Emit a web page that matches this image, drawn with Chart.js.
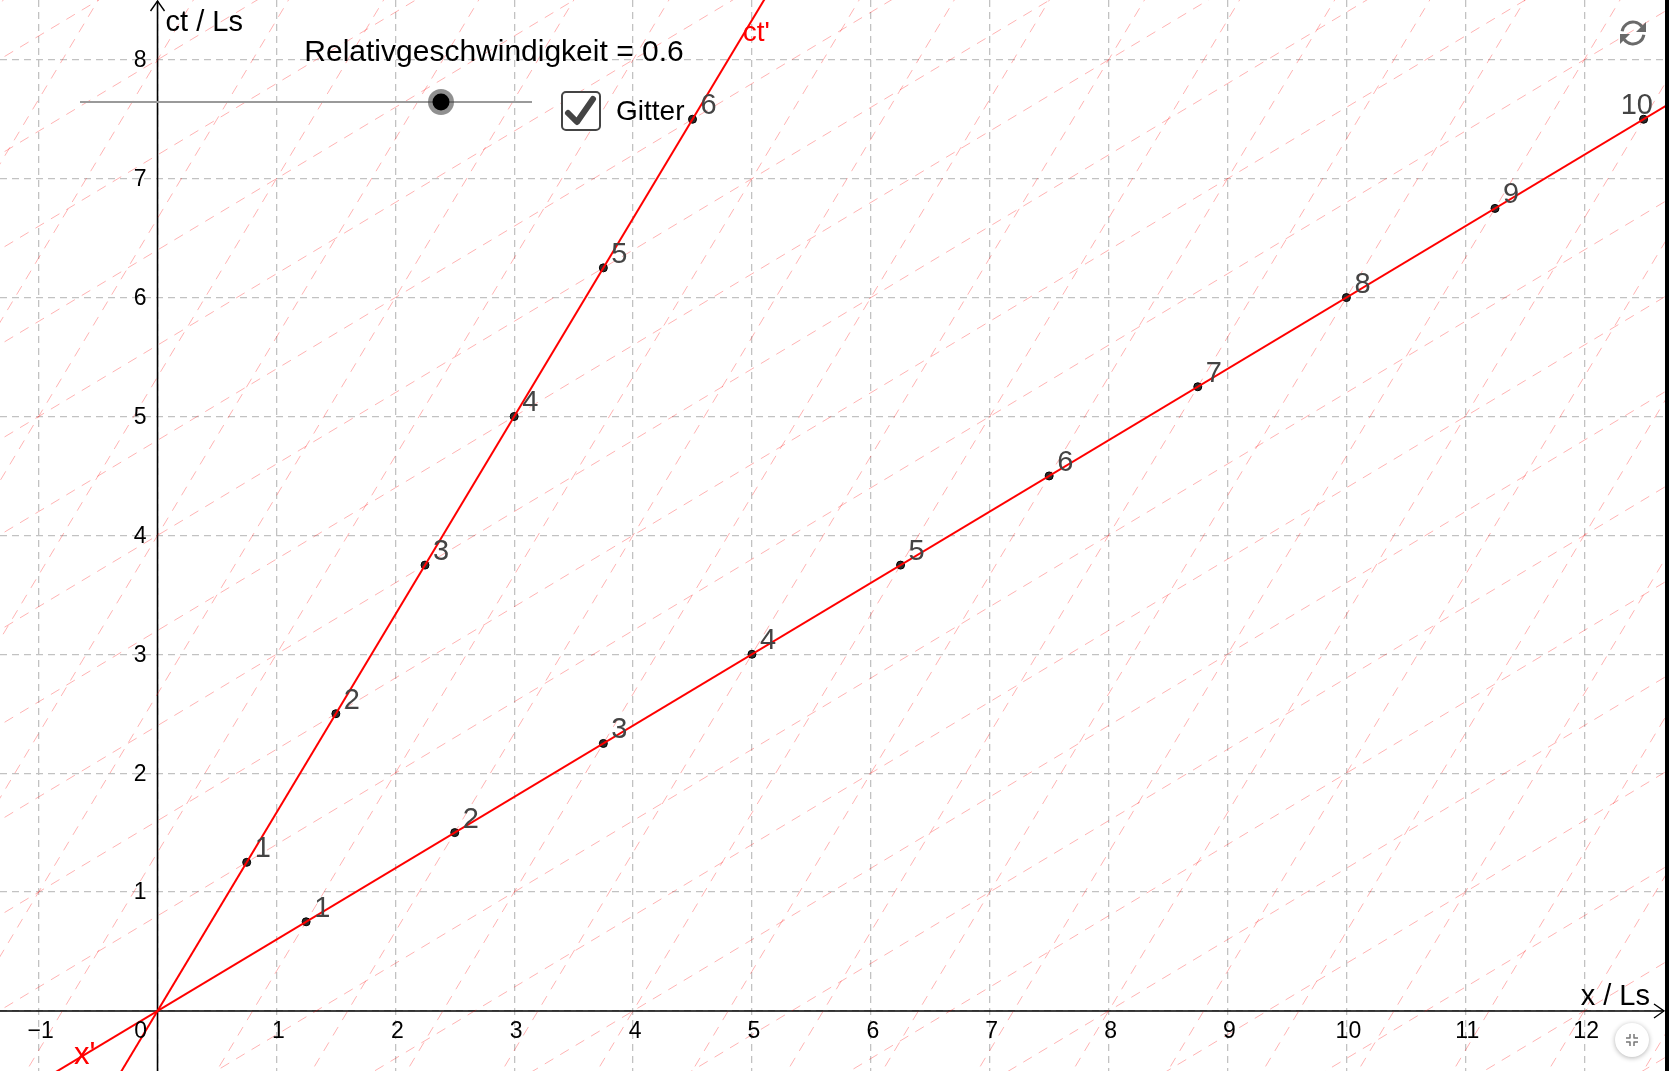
<!DOCTYPE html>
<html>
<head>
<meta charset="utf-8">
<script src="https://cdn.jsdelivr.net/npm/chart.js@4.4.1/dist/chart.umd.min.js"></script>
<style>
  html, body { margin: 0; padding: 0; background: #000; overflow: hidden; }
  #wrap { position: absolute; left: 0; top: 0; width: 1665px; height: 1071px; background: #fff; }
</style>
</head>
<body>
<div id="wrap"><canvas id="mink"></canvas></div>
<script>
// visible window of the diagram (Ls)
const xMin = -1.325, xMax = 12.68;
const yMin = -0.505, yMax = 8.503;

// relative velocity (beta) – slope of the primed axes
const velocity = 0.6;

// unit marks on the ct' axis
const ctPrimeX = [0.75, 1.5, 2.25, 3, 3.75, 4.5];
const ctPrimeY = [1.25, 2.5, 3.75, 5, 6.25, 7.5];
const ctPrimeLabels = ["1", "2", "3", "4", "5", "6"];

// unit marks on the x' axis
const xPrimeX = [1.25, 2.5, 3.75, 5, 6.25, 7.5, 8.75, 10, 11.25, 12.5];
const xPrimeY = [0.75, 1.5, 2.25, 3, 3.75, 4.5, 5.25, 6, 6.75, 7.5];
const xPrimeLabels = ["1", "2", "3", "4", "5", "6", "7", "8", "9", "10"];

// primed grid: x-intercepts of lines parallel to ct', ct-intercepts of lines parallel to x'
const steepIntercepts = [-6.4, -5.6, -4.8, -4, -3.2, -2.4, -1.6, -0.8, 0.8, 1.6, 2.4, 3.2, 4, 4.8, 5.6, 6.4, 7.2, 8, 8.8, 9.6, 10.4, 11.2, 12, 12.8];
const shallowIntercepts = [-8, -7.2, -6.4, -5.6, -4.8, -4, -3.2, -2.4, -1.6, -0.8, 0.8, 1.6, 2.4, 3.2, 4, 4.8, 5.6, 6.4, 7.2, 8, 8.8];

const sliderTitle = "Relativgeschwindigkeit = 0.6";
const checkboxLabel = "Gitter";

const FONT = "'Liberation Sans', Arial, sans-serif";

// build datasets
const datasets = [];
const pink = "rgba(255, 0, 0, 0.3)";
steepIntercepts.forEach(a => {
    datasets.push({
        data: [{x: a + velocity * (yMin - 1), y: yMin - 1}, {x: a + velocity * (yMax + 1), y: yMax + 1}],
        showLine: true, borderColor: pink, borderWidth: 1, borderDash: [10, 8], pointRadius: 0
    });
});
shallowIntercepts.forEach(b => {
    datasets.push({
        data: [{x: xMin - 1, y: b + velocity * (xMin - 1)}, {x: xMax + 1, y: b + velocity * (xMax + 1)}],
        showLine: true, borderColor: pink, borderWidth: 1, borderDash: [10, 8], pointRadius: 0
    });
});
// ct' and x' axes
datasets.push({
    data: [{x: velocity * (yMin - 1), y: yMin - 1}, {x: velocity * (yMax + 1), y: yMax + 1}],
    showLine: true, borderColor: "#ff0000", borderWidth: 2, pointRadius: 0
});
datasets.push({
    data: [{x: xMin - 1, y: velocity * (xMin - 1)}, {x: xMax + 1, y: velocity * (xMax + 1)}],
    showLine: true, borderColor: "#ff0000", borderWidth: 2, pointRadius: 0
});
datasets.push({
    data: ctPrimeX.map((x, i) => ({x: x, y: ctPrimeY[i]})),
    showLine: false, pointRadius: 4, backgroundColor: "#2b2b2b", borderColor: "#000", borderWidth: 1, markLabels: ctPrimeLabels
});
datasets.push({
    data: xPrimeX.map((x, i) => ({x: x, y: xPrimeY[i]})),
    showLine: false, pointRadius: 4, backgroundColor: "#2b2b2b", borderColor: "#000", borderWidth: 1, markLabels: xPrimeLabels
});

// one tick per whole unit inside the window
function unitTicks(scale) {
    const ticks = [];
    for (let v = Math.ceil(scale.min); v <= Math.floor(scale.max); v++) ticks.push({value: v});
    scale.ticks = ticks;
}

// black axes with arrows, drawn under the data
const axesPlugin = {
    id: "axes",
    beforeDatasetsDraw(chart) {
        const {ctx, chartArea, scales: {x, y}} = chart;
        const x0 = x.getPixelForValue(0), y0 = y.getPixelForValue(0);
        ctx.save();
        ctx.strokeStyle = "#000";
        ctx.lineWidth = 1.6;
        ctx.beginPath();
        ctx.moveTo(chartArea.left, y0); ctx.lineTo(chartArea.right - 1, y0);
        ctx.moveTo(x0, chartArea.bottom); ctx.lineTo(x0, chartArea.top + 1);
        ctx.stroke();
        ctx.lineWidth = 1.4;
        ctx.beginPath();
        ctx.moveTo(chartArea.right - 11, y0 - 7); ctx.lineTo(chartArea.right - 1, y0); ctx.lineTo(chartArea.right - 11, y0 + 7);
        ctx.moveTo(x0 - 7, chartArea.top + 11); ctx.lineTo(x0, chartArea.top + 1); ctx.lineTo(x0 + 7, chartArea.top + 11);
        ctx.stroke();
        ctx.restore();
    }
};

// tick labels, titles, point labels and the applet controls
const overlayPlugin = {
    id: "overlay",
    afterDraw(chart) {
        const {ctx, chartArea, scales: {x, y}} = chart;
        const x0 = x.getPixelForValue(0), y0 = y.getPixelForValue(0);
        ctx.save();

        // tick labels
        ctx.fillStyle = "#000";
        ctx.font = "23px " + FONT;
        ctx.textBaseline = "middle";
        ctx.textAlign = "center";
        x.ticks.forEach(t => {
            const px = x.getPixelForValue(t.value);
            if (t.value === 0) {
                ctx.fillText("0", x0 - 17, y0 + 21);
            } else {
                ctx.fillText(t.value < 0 ? "\u2212" + Math.abs(t.value) : String(t.value), px + 2, y0 + 21);
            }
        });
        ctx.textAlign = "right";
        y.ticks.forEach(t => {
            if (t.value === 0) return;
            ctx.fillText(String(t.value), x0 - 11, y.getPixelForValue(t.value) + 1);
        });

        // axis titles
        ctx.font = "29px " + FONT;
        ctx.textBaseline = "alphabetic";
        ctx.textAlign = "left";
        ctx.fillText("ct / Ls", x0 + 8, 31);
        ctx.textAlign = "right";
        ctx.fillText("x / Ls", chartArea.right - 15, y0 - 6);

        // labels of the primed axes
        ctx.fillStyle = "#ff0000";
        ctx.textAlign = "left";
        ctx.font = "28px " + FONT;
        ctx.fillText("ct'", x.getPixelForValue(velocity * (yMax - 0.27)) - 2, 41);
        ctx.font = "31px " + FONT;
        ctx.fillText("x'", 74, 1064);

        // unit mark labels
        ctx.font = "29px " + FONT;
        ctx.fillStyle = "#444";
        chart.data.datasets.forEach(ds => {
            if (!ds.markLabels) return;
            ds.data.forEach((p, i) => {
                const txt = ds.markLabels[i];
                const w = ctx.measureText(txt).width;
                let px = x.getPixelForValue(p.x) + 8;
                if (px + w > chartArea.right - 12) px = chartArea.right - 12 - w;
                ctx.fillText(txt, px, y.getPixelForValue(p.y) - 5);
            });
        });

        // slider
        ctx.fillStyle = "#000";
        ctx.font = "30px " + FONT;
        ctx.textAlign = "center";
        ctx.textBaseline = "middle";
        ctx.fillText(sliderTitle, 494, 53);
        ctx.strokeStyle = "#9a9a9a";
        ctx.lineWidth = 2;
        ctx.beginPath(); ctx.moveTo(80, 102); ctx.lineTo(532, 102); ctx.stroke();
        ctx.fillStyle = "rgba(70,70,70,0.6)";
        ctx.beginPath(); ctx.arc(441, 102, 13, 0, Math.PI * 2); ctx.fill();
        ctx.fillStyle = "#000";
        ctx.beginPath(); ctx.arc(441, 102, 8.5, 0, Math.PI * 2); ctx.fill();

        // checkbox
        ctx.fillStyle = "#fff";
        ctx.strokeStyle = "#444";
        ctx.lineWidth = 2;
        ctx.beginPath();
        ctx.roundRect(562, 92, 38, 38, 4);
        ctx.fill(); ctx.stroke();
        ctx.lineWidth = 6;
        ctx.lineCap = "round";
        ctx.lineJoin = "round";
        ctx.beginPath();
        ctx.moveTo(568, 113); ctx.lineTo(577, 122); ctx.lineTo(593, 99);
        ctx.stroke();
        ctx.fillStyle = "#000";
        ctx.font = "28px " + FONT;
        ctx.textAlign = "left";
        ctx.fillText(checkboxLabel, 616, 112);

        // refresh icon (top right)
        ctx.strokeStyle = "#6a6a6a";
        ctx.fillStyle = "#6a6a6a";
        ctx.lineWidth = 3;
        ctx.lineCap = "butt";
        const cx = 1633, cy = 33, r = 11;
        ctx.beginPath(); ctx.arc(cx, cy, r, Math.PI * 1.05, Math.PI * 1.8); ctx.stroke();
        ctx.beginPath(); ctx.arc(cx, cy, r, Math.PI * 0.05, Math.PI * 0.8); ctx.stroke();
        ctx.beginPath();
        ctx.moveTo(cx + 13, cy - 11); ctx.lineTo(cx + 13, cy - 1); ctx.lineTo(cx + 3, cy - 1); ctx.closePath(); ctx.fill();
        ctx.beginPath();
        ctx.moveTo(cx - 13, cy + 11); ctx.lineTo(cx - 13, cy + 1); ctx.lineTo(cx - 3, cy + 1); ctx.closePath(); ctx.fill();

        // fullscreen toggle (bottom right)
        ctx.save();
        ctx.shadowColor = "rgba(0,0,0,0.3)";
        ctx.shadowBlur = 5;
        ctx.shadowOffsetY = 1;
        ctx.fillStyle = "#fff";
        ctx.beginPath(); ctx.arc(1632, 1040, 17, 0, Math.PI * 2); ctx.fill();
        ctx.restore();
        ctx.strokeStyle = "#777";
        ctx.lineWidth = 1.5;
        const bx = 1632, by = 1040;
        ctx.beginPath();
        ctx.moveTo(bx - 6, by - 2); ctx.lineTo(bx - 2, by - 2); ctx.lineTo(bx - 2, by - 6);
        ctx.moveTo(bx + 6, by - 2); ctx.lineTo(bx + 2, by - 2); ctx.lineTo(bx + 2, by - 6);
        ctx.moveTo(bx - 6, by + 2); ctx.lineTo(bx - 2, by + 2); ctx.lineTo(bx - 2, by + 6);
        ctx.moveTo(bx + 6, by + 2); ctx.lineTo(bx + 2, by + 2); ctx.lineTo(bx + 2, by + 6);
        ctx.stroke();

        ctx.restore();
    }
};

const ctx = document.getElementById("mink").getContext("2d");
const minkChart = new Chart(ctx, {
    type: "scatter",
    data: { datasets: datasets },
    options: {
        responsive: true,
        maintainAspectRatio: false,
        animation: false,
        layout: { padding: 0, autoPadding: false },
        plugins: { legend: { display: false }, tooltip: { enabled: false } },
        scales: {
            x: {
                type: "linear", min: xMin, max: xMax,
                afterBuildTicks: unitTicks,
                ticks: { stepSize: 1, display: false },
                grid: { color: "#c2c2c2", lineWidth: 1.3, drawTicks: false },
                border: { display: false, dash: [7, 5] }
            },
            y: {
                type: "linear", min: yMin, max: yMax,
                afterBuildTicks: unitTicks,
                ticks: { stepSize: 1, display: false },
                grid: { color: "#c2c2c2", lineWidth: 1.3, drawTicks: false },
                border: { display: false, dash: [7, 5] }
            }
        }
    },
    plugins: [axesPlugin, overlayPlugin]
});
</script>
</body>
</html>
